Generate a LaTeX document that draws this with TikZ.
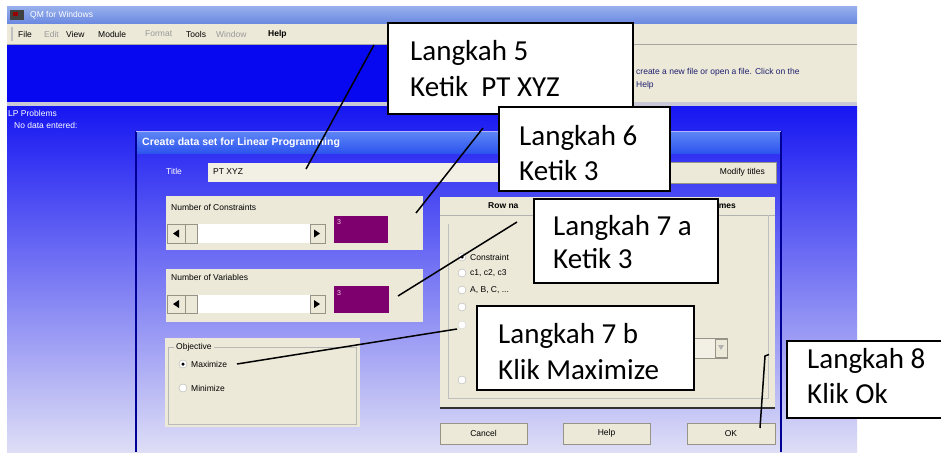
\documentclass[tikz,border=0pt]{standalone}
\usepackage{fontspec}
\setmainfont{Carlito}
\newfontfamily\uifont{Liberation Sans}

\definecolor{xpbeige}{RGB}{236,233,216}
\definecolor{fieldbeige}{RGB}{242,240,228}
\definecolor{deepblue}{RGB}{8,8,240}
\definecolor{wstop}{RGB}{22,22,242}
\definecolor{wsbot}{RGB}{222,222,246}
\definecolor{dlgedge}{RGB}{0,0,150}
\definecolor{plum}{RGB}{125,0,110}
\definecolor{msgnavy}{RGB}{30,30,110}
\definecolor{sepgrey}{RGB}{200,200,215}
\definecolor{btnshadow}{RGB}{150,148,135}

\tikzset{
  ui/.style={font=\uifont\fontsize{8.5}{10}\selectfont, inner sep=0pt, anchor=west},
  uibold/.style={ui, font=\uifont\bfseries\fontsize{10.5}{12}\selectfont},
  callout/.style={draw=black, line width=1.6pt, fill=white, inner sep=0pt, anchor=north west},
  calltext/.style={font=\fontsize{29}{35}\selectfont, anchor=base west, inner sep=0pt},
  pointer/.style={draw=black, line width=1.5pt},
  groupbox/.style={fill=xpbeige},
  button/.style={fill=xpbeige, draw=btnshadow, line width=0.8pt},
  radio/.style={circle, draw=gray!60, fill=white, minimum size=8pt, inner sep=0pt},
  dot/.style={circle, fill=black, minimum size=3.5pt, inner sep=0pt},
  tri/.style={fill=black},
}

\begin{document}
\begin{tikzpicture}[x=1pt,y=-1pt]
\useasboundingbox (0,0) rectangle (941,452);
\fill[white] (0,0) rectangle (941,452);

% ---- application window ----
\shade[top color={rgb,255:red,150;green,175;blue,235}, bottom color={rgb,255:red,105;green,135;blue,225}] (7,7) rectangle (857,24);
\fill[black!75] (10,10) rectangle (24,20);
\fill[red!60!black] (13,12) rectangle (18,16);
\node[ui, text=white] (apptitle) at (30,15) {QM for Windows};

% menu bar
\fill[xpbeige] (7,24) rectangle (857,44);
\fill[gray!50] (11,27) rectangle (13,41);
\node[ui] (mfile) at (18,34) {File};
\node[ui, text=gray!80] (medit) at (44,34) {Edit};
\node[ui] (mview) at (66,34) {View};
\node[ui] (mmodule) at (98,34) {Module};
\node[ui, text=gray!80] (mformat) at (145,34) {Format};
\node[ui] (mtools) at (186,34) {Tools};
\node[ui, text=gray!80] (mwindow) at (216,34) {Window};
\node[ui, font=\uifont\bfseries\fontsize{8.5}{10}\selectfont] (mhelp) at (268,34) {Help};

% blue band and message area
\fill[deepblue] (7,44) rectangle (857,102);
\fill[xpbeige] (400,44) rectangle (857,104);
\draw[gray!70] (7,44.5) -- (857,44.5);
\begin{scope}
  \clip (632,44) rectangle (857,104);
  \node[ui, text=msgnavy] (msg1) at (636,72) {create a new file or open a file. Click on the};
  \node[ui, text=msgnavy] (msg2) at (636,85) {Help};
\end{scope}
\fill[sepgrey] (7,102) rectangle (857,106);

% workspace
\shade[top color=wstop, bottom color=wsbot] (7,106) rectangle (857,452);
\node[ui, text=white] (ws1) at (8,113) {LP Problems};
\node[ui, text=white] (ws2) at (14,125) {No data entered:};

% ---- dialog ----
\shade[top color={rgb,255:red,95;green,135;blue,246}, bottom color={rgb,255:red,45;green,85;blue,238}] (136,131) rectangle (781,153);
\draw[dlgedge, line width=2pt] (136,131) -- (136,452);
\draw[dlgedge, line width=2pt] (781,131) -- (781,452);
\draw[white!70!blue, line width=1pt] (136,131) -- (781,131);
\node[uibold, text=white] (dlgtitle) at (142,143) {Create data set for Linear Programming};

% title row
\node[ui, text=white] (lbltitle) at (166,171) {Title};
\fill[fieldbeige] (208,163) rectangle (668,182);
\node[ui] (titletxt) at (213,172) {PT XYZ};
\draw[button] (668,162) rectangle (776,183);
\node[ui, anchor=east] (modbtn) at (765,172.5) {Modify titles};

% number of constraints
\fill[groupbox] (166,196) rectangle (423,250);
\node[ui] (lblcon) at (171,207) {Number of Constraints};
\fill[white] (185,224) rectangle (310,243);
\draw[button] (167,224) rectangle (185,243);
\draw[button] (185,224) rectangle (197,243);
\draw[button] (310,224) rectangle (325,243);
\fill[tri] (173,233.5) -- (179,229.5) -- (179,237.5) -- cycle;
\fill[tri] (320,233.5) -- (314,229.5) -- (314,237.5) -- cycle;
\fill[plum] (334,216) rectangle (388,243);
\node[ui, text=white!80!magenta, font=\uifont\fontsize{7}{8}\selectfont] (valcon) at (337,222) {3};

% number of variables
\fill[groupbox] (166,269) rectangle (423,322);
\node[ui] (lblvar) at (171,277) {Number of Variables};
\fill[white] (185,295) rectangle (310,313);
\draw[button] (167,295) rectangle (185,313);
\draw[button] (185,295) rectangle (197,313);
\draw[button] (310,295) rectangle (325,313);
\fill[tri] (173,304) -- (179,300) -- (179,308) -- cycle;
\fill[tri] (320,304) -- (314,300) -- (314,308) -- cycle;
\fill[plum] (334,286) rectangle (389,313);
\node[ui, text=white!80!magenta, font=\uifont\fontsize{7}{8}\selectfont] (valvar) at (337,293) {3};

% objective
\fill[groupbox] (165,338) rectangle (360,427);
\draw[gray!55] (168,347) rectangle (356,424);
\node[ui, fill=xpbeige, inner xsep=2pt] (lblobj) at (174,347) {Objective};
\node[radio] (rmax) at (183,364) {};
\node[dot] at (rmax) {};
\node[ui] (txtmax) at (191,364) {Maximize};
\node[radio] (rmin) at (183,388) {};
\node[ui] (txtmin) at (191,388) {Minimize};

% row / column names panel
\fill[groupbox] (440,197) rectangle (775,408);
\draw[gray!60] (440,215) -- (775,215);
\node[ui, font=\uifont\bfseries\fontsize{8.5}{10}\selectfont] (rowtab) at (488,206) {Row na};
\node[ui, anchor=east, font=\uifont\bfseries\fontsize{8.5}{10}\selectfont] (coltab) at (736,206) {mes};
\draw[gray!50] (448,224) -- (448,398) -- (768,398) -- (768,215);
\draw[black!80, line width=1.5pt] (440,408) -- (775,408);
\node[radio] (r1) at (462,257) {};
\node[dot] at (r1) {};
\node[ui] (t1) at (470,257) {Constraint};
\node[radio] (r2) at (462,273) {};
\node[ui] (t2) at (470,273) {c1, c2, c3};
\node[radio] (r3) at (462,290) {};
\node[ui] (t3) at (470,290) {A, B, C, ...};
\node[radio] (r4) at (462,307) {};
\node[radio, draw=gray!35] (r5) at (462,325) {};
\node[radio] (r6) at (462,380) {};
\draw[button, fill=fieldbeige] (693,338) rectangle (727,358);
\draw[button] (715,339) rectangle (727,357);
\fill[gray!60] (718,345) -- (724,345) -- (721,350) -- cycle;

% dialog buttons
\draw[button] (440,423) rectangle (527,444);
\node[ui, anchor=center] (bcancel) at (483.5,433.5) {Cancel};
\draw[button] (563,423) rectangle (650,444);
\node[ui, anchor=center] (bhelp) at (606.5,433.5) {Help};
\draw[button] (687,423) rectangle (775,444);
\node[ui, anchor=center] (bok) at (731,433.5) {OK};

% ---- callout pointers ----
\coordinate (p5a) at (374,45);   \coordinate (p5b) at (306,169);
\coordinate (p6a) at (483,128);  \coordinate (p6b) at (416,213);
\coordinate (p7a) at (517,222);  \coordinate (p7b) at (398,296);
\coordinate (q7a) at (457,329);  \coordinate (q7b) at (237,364);
\coordinate (p8a) at (769,354.5);\coordinate (p8m) at (765,356); \coordinate (p8b) at (760,428);
\draw[pointer] (p5a) -- (p5b);
\draw[pointer] (p6a) -- (p6b);
\draw[pointer] (p7a) -- (p7b);
\draw[pointer] (q7a) -- (q7b);
\draw[pointer] (p8a) -- (p8m) -- (p8b);

% ---- callouts ----
\node[callout, minimum width=245pt, minimum height=91pt] (s5) at (387,22) {};
\node[calltext] (s5a) at (410,60) {Langkah 5};
\node[calltext] (s5b) at (410,96) {Ketik\ \ PT XYZ};

\node[callout, minimum width=171pt, minimum height=84pt] (s6) at (498,106) {};
\node[calltext] (s6a) at (519,145) {Langkah 6};
\node[calltext] (s6b) at (519,180) {Ketik 3};

\node[callout, minimum width=184pt, minimum height=84pt] (s7a) at (533,198) {};
\node[calltext] (s7aa) at (553,235) {Langkah 7 a};
\node[calltext] (s7ab) at (553,268) {Ketik 3};

\node[callout, minimum width=217pt, minimum height=84pt] (s7b) at (476,305) {};
\node[calltext] (s7ba) at (498,343) {Langkah 7 b};
\node[calltext] (s7bb) at (498,379) {Klik Maximize};

\node[callout, minimum width=160pt, minimum height=77pt] (s8) at (786,340) {};
\node[calltext] (s8a) at (807,368) {Langkah 8};
\node[calltext] (s8b) at (807,403) {Klik Ok};
\end{tikzpicture}
\end{document}
